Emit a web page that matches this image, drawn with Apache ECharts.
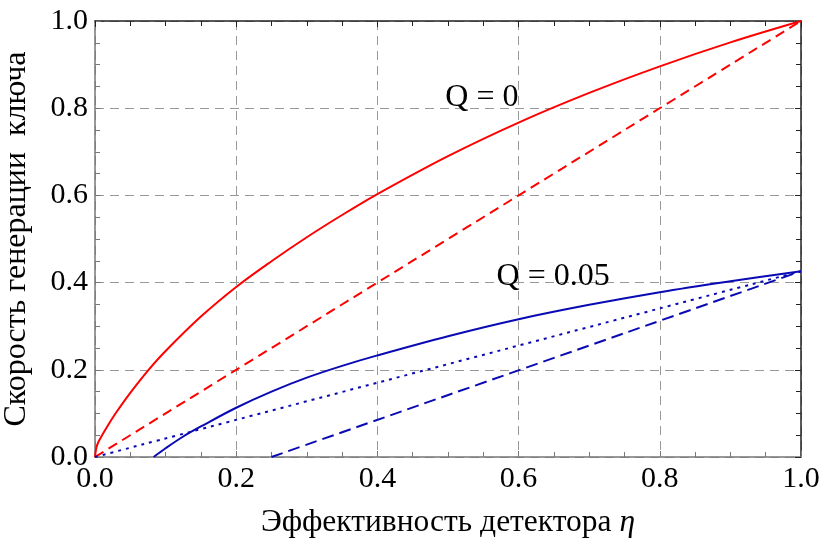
<!DOCTYPE html>
<html lang="ru">
<head>
<meta charset="UTF-8">
<title>key rate</title>
<script src="https://cdn.jsdelivr.net/npm/echarts@6/dist/echarts.min.js"></script>
<style>
  html, body { margin: 0; padding: 0; background: #fff; }
  #chart { width: 824px; height: 540px; }
</style>
</head>
<body>
<div id="chart"></div>
<script>
// Q = 0, сплошная кривая
var etaQ0 = [0, 0.002, 0.005, 0.01, 0.02, 0.03, 0.05, 0.075, 0.1, 0.15, 0.2, 0.25, 0.3, 0.35, 0.4, 0.5, 0.6, 0.7, 0.8, 0.9, 1.0];
var rateQ0 = [0, 0.022, 0.035, 0.05, 0.077, 0.102, 0.147, 0.198, 0.243, 0.322, 0.39, 0.449, 0.504, 0.555, 0.603, 0.69, 0.767, 0.835, 0.896, 0.951, 1.0];
// Q = 0, штриховая
var etaQ0dash = [0, 1];
var rateQ0dash = [0, 1];
// Q = 0.05, сплошная
var etaQ5 = [0.083, 0.1, 0.125, 0.15, 0.2, 0.25, 0.3, 0.35, 0.4, 0.5, 0.6, 0.7, 0.8, 0.9, 1.0];
var rateQ5 = [0, 0.02, 0.047, 0.07, 0.113, 0.15, 0.182, 0.209, 0.233, 0.277, 0.316, 0.349, 0.378, 0.403, 0.426];
// Q = 0.05, пунктир
var etaQ5dot = [0, 1];
var rateQ5dot = [0, 0.426];
// Q = 0.05, штриховая
var etaQ5dash = [0.25, 1];
var rateQ5dash = [0, 0.426];

var tickLabels = ['0.0', '0.2', '0.4', '0.6', '0.8', '1.0'];

function pairs(xs, ys) {
    var out = [];
    for (var i = 0; i < xs.length; i++) out.push([xs[i], ys[i]]);
    return out;
}

var serif = 'Liberation Serif';

function axisBase(showLabels, color) {
    return {
        type: 'value', min: 0, max: 1, interval: 0.2,
        axisLine: { show: true, onZero: false, lineStyle: { color: color, width: 1.5 } },
        axisTick: { show: true, inside: true, length: 6, lineStyle: { color: color } },
        minorTick: { show: true, splitNumber: 4, length: 5, lineStyle: { color: color } },
        axisLabel: {
            show: showLabels, fontFamily: serif, fontSize: 30, color: '#000',
            formatter: function (v) { return tickLabels[Math.round(v * 5)]; }
        },
        splitLine: { show: false }
    };
}

var gridLine = { show: true, lineStyle: { color: '#999', type: [9, 6], width: 1 } };

var xBottom = axisBase(true, '#777');
xBottom.position = 'bottom';
xBottom.axisLabel.margin = 7;
xBottom.splitLine = gridLine;
xBottom.name = '{t|Эффективность детектора }{i|η}';
xBottom.nameLocation = 'middle';
xBottom.nameGap = 50;
xBottom.nameTextStyle = {
    rich: {
        t: { fontFamily: serif, fontSize: 31.5, color: '#000' },
        i: { fontFamily: serif, fontSize: 31.5, fontStyle: 'italic', color: '#000' }
    }
};
var xTop = axisBase(false, '#222');
xTop.position = 'top';

var yLeft = axisBase(true, '#777');
yLeft.position = 'left';
yLeft.axisLabel.margin = 7;
yLeft.splitLine = gridLine;
yLeft.name = 'Скорость генерации  ключа';
yLeft.nameLocation = 'middle';
yLeft.nameGap = 62;
yLeft.nameTextStyle = { fontFamily: serif, fontSize: 32, color: '#000' };
var yRight = axisBase(false, '#222');
yRight.position = 'right';

function line(name, data, color, dash, extra) {
    var s = {
        name: name, type: 'line', data: data,
        xAxisIndex: 0, yAxisIndex: 0,
        showSymbol: false, smooth: 0.35, silent: true,
        lineStyle: { color: color, width: 2, type: dash },
        z: 5
    };
    if (extra) for (var k in extra) s[k] = extra[k];
    return s;
}

var labelStyle = { show: true, fontFamily: serif, fontSize: 32, color: '#000', position: 'inside' };

var chart = echarts.init(document.getElementById('chart'));
chart.setOption({
    animation: false,
    backgroundColor: '#fff',
    grid: { left: 95, right: 23, top: 21, bottom: 83, outerBoundsMode: 'none' },
    xAxis: [xBottom, xTop],
    yAxis: [yLeft, yRight],
    series: [
        line('Q0', pairs(etaQ0, rateQ0), '#ff0000', 'solid', {
            markPoint: {
                symbol: 'circle', symbolSize: 1, itemStyle: { color: 'transparent' },
                label: labelStyle,
                data: [{ coord: [0.548, 0.825], value: 'Q = 0' }]
            }
        }),
        line('Q0dash', pairs(etaQ0dash, rateQ0dash), '#ff0000', [10, 6]),
        line('Q5', pairs(etaQ5, rateQ5), '#0a0ab4', 'solid', {
            markPoint: {
                symbol: 'circle', symbolSize: 1, itemStyle: { color: 'transparent' },
                label: labelStyle,
                data: [{ coord: [0.649, 0.413], value: 'Q = 0.05' }]
            }
        }),
        line('Q5dot', pairs(etaQ5dot, rateQ5dot), '#0a0ab4', [3, 5]),
        line('Q5dash', pairs(etaQ5dash, rateQ5dash), '#0a0ab4', [12, 6])
    ]
});
</script>
</body>
</html>
